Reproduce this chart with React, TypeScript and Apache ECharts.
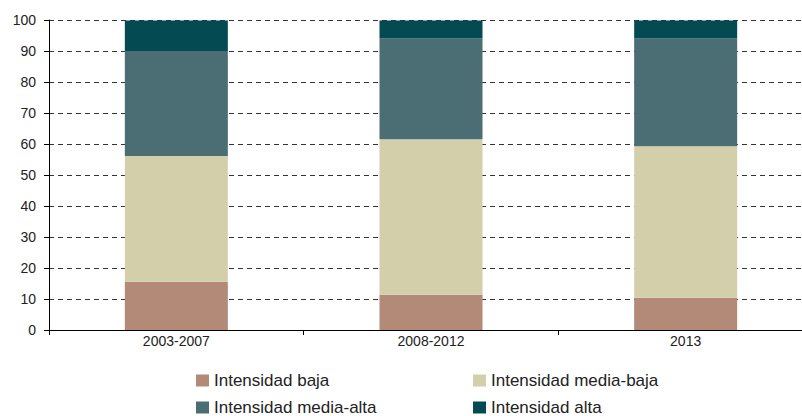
import React, { useEffect, useRef } from "react";
import * as echarts from "echarts";

const categories = ["2003-2007", "2008-2012", "2013"];
const baja = [15.6, 11.4, 10.4];
const mediaBaja = [40.5, 50.1, 48.9];
const mediaAlta = [33.9, 32.5, 34.7];
const alta = [9.8, 5.8, 5.8];
const seriesNames = ["Intensidad baja", "Intensidad media-baja", "Intensidad media-alta", "Intensidad alta"];
const colors = ["#b38a78", "#d3cfaa", "#4a6e73", "#034a52"];

export default function App() {
  const ref = useRef<HTMLDivElement>(null);
  useEffect(() => {
    document.body.style.margin = "0";
    document.body.style.overflow = "hidden";
    document.documentElement.style.overflow = "hidden";
    const chart = echarts.init(ref.current!, null, { renderer: "svg" });
    const font = "'Liberation Sans', Arial, sans-serif";
    const dataSets = [baja, mediaBaja, mediaAlta, alta];
    const legendPos = [
      { left: 196, top: 372 },
      { left: 473, top: 372 },
      { left: 196, top: 399 },
      { left: 473, top: 399 },
    ];
    chart.setOption({
      animation: false,
      textStyle: { fontFamily: font },
      grid: { left: 49, top: 20, width: 764, height: 310, containLabel: false },
      legend: seriesNames.map((n, i) => ({
        data: [n],
        left: legendPos[i].left,
        top: legendPos[i].top,
        itemWidth: 13,
        itemHeight: 12,
        itemGap: 5,
        padding: 0,
        icon: "rect",
        selectedMode: false,
        textStyle: { fontSize: 17, color: "#222", fontFamily: font, padding: [0, 0, 0, 0] },
      })),
      xAxis: {
        type: "category",
        data: categories,
        axisLine: { lineStyle: { color: "#000", width: 1 } },
        axisTick: { show: true, length: 5, lineStyle: { color: "#000" } },
        axisLabel: { fontSize: 14, color: "#222", margin: 4, fontFamily: font },
      },
      yAxis: {
        type: "value",
        min: 0,
        max: 100,
        interval: 10,
        axisLine: { show: true, lineStyle: { color: "#000", width: 1 } },
        axisTick: { show: true, length: 5, lineStyle: { color: "#000" } },
        axisLabel: { fontSize: 14, color: "#222", margin: 13, fontFamily: font },
        splitLine: { show: true, lineStyle: { color: "#333", width: 1, type: [5, 4] } },
      },
      series: seriesNames.map((n, i) => ({
        name: n,
        type: "bar",
        stack: "total",
        barWidth: 103,
        data: dataSets[i],
        itemStyle: { color: colors[i] },
      })),
    });
    return () => chart.dispose();
  }, []);
  return <div ref={ref} style={{ width: 830, height: 416 }} />;
}
